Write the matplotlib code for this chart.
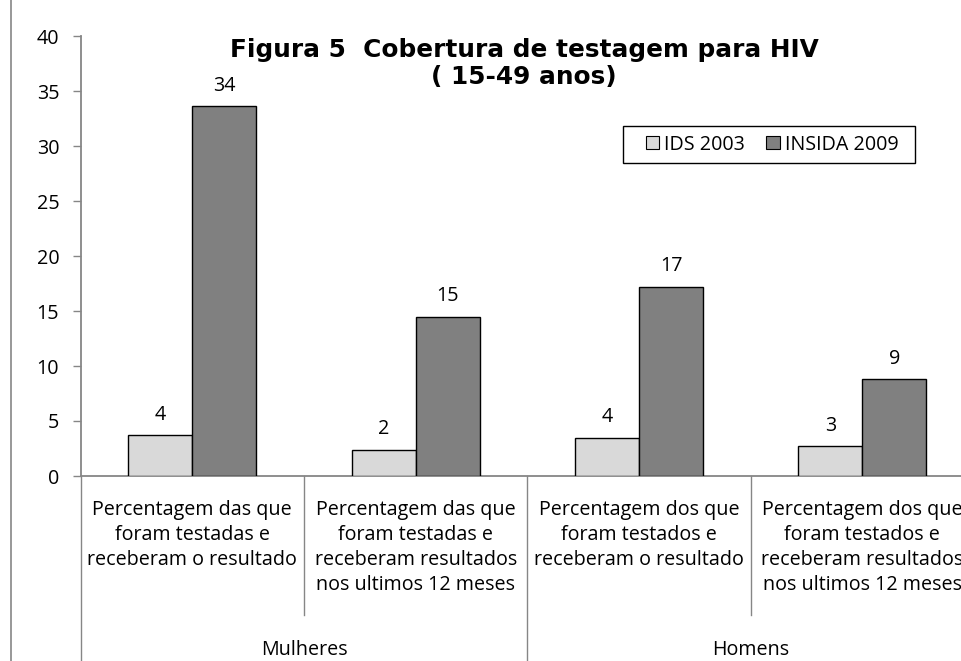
import matplotlib
matplotlib.use("Agg")
import matplotlib.pyplot as plt
from matplotlib.patches import Patch, Rectangle
from matplotlib.lines import Line2D
import numpy as np

# ---- data ----
categories = [
    "Percentagem das que\nforam testadas e\nreceberam o resultado",
    "Percentagem das que\nforam testadas e\nreceberam resultados\nnos ultimos 12 meses",
    "Percentagem dos que\nforam testados e\nreceberam o resultado",
    "Percentagem dos que\nforam testados e\nreceberam resultados\nnos ultimos 12 meses",
]
groups = ["Mulheres", "Homens"]
series_names = ["IDS 2003", "INSIDA 2009"]
ids2003 = [3.7, 2.4, 3.5, 2.7]
insida2009 = [33.6, 14.5, 17.2, 8.8]
labels_ids = ["4", "2", "4", "3"]
labels_insida = ["34", "15", "17", "9"]
yticks = [0, 5, 10, 15, 20, 25, 30, 35, 40]
title_lines = ["Figura 5  Cobertura de testagem para HIV", "( 15-49 anos)"]

FONT = "Open Sans"
FS = 14.2
W, H = 961, 661
fig = plt.figure(figsize=(W / 100, H / 100), dpi=100)

left_px, right_px, top_px, bot_px = 80.7, 974.0, 36.0, 476.0
ax = fig.add_axes([left_px / W, 1 - bot_px / H, (right_px - left_px) / W, (bot_px - top_px) / H])

x = np.arange(len(categories))
bw = 0.287
light, dark = "#D9D9D9", "#808080"
b1 = ax.bar(x - bw / 2, ids2003, bw, color=light, edgecolor="black", linewidth=1.0, zorder=3)
b2 = ax.bar(x + bw / 2, insida2009, bw, color=dark, edgecolor="black", linewidth=1.0, zorder=3)
ax.bar_label(b1, labels=labels_ids, padding=7.5, fontsize=FS, family=FONT)
ax.bar_label(b2, labels=labels_insida, padding=7.5, fontsize=FS, family=FONT)

ax.set_xlim(-0.5, len(categories) - 0.5)
ax.set_ylim(0, 40)
ax.set_yticks(yticks)
ax.set_xticks([])
gray = "#868686"
for s in ["top", "right"]:
    ax.spines[s].set_visible(False)
ax.spines["left"].set_color(gray)
ax.spines["bottom"].set_color(gray)
ax.spines["left"].set_linewidth(1.3)
ax.spines["bottom"].set_linewidth(1.3)
ax.tick_params(axis="y", direction="out", length=5.5, width=1.0, color=gray, pad=10,
               labelsize=FS)
for t in ax.get_yticklabels():
    t.set_family(FONT)

trans = ax.get_xaxis_transform()
axh = bot_px - top_px
# category labels
line_h = 25.0
first_y = 510.0
for i, cat in enumerate(categories):
    for j, line in enumerate(cat.split("\n")):
        ypx = first_y + j * line_h
        ax.text(i, -(ypx - bot_px) / axh, line, transform=trans, ha="center", va="center",
                fontsize=FS, family=FONT, clip_on=False)
# separators between categories within groups
for b in [0.5, 2.5]:
    ax.plot([b, b], [0, -(615 - bot_px) / axh], transform=trans, color=gray, lw=1.0, clip_on=False)
# group separators
for b in [-0.5, 1.5, 3.5]:
    ax.plot([b, b], [0, -(H - bot_px) / axh], transform=trans, color=gray, lw=1.0, clip_on=False)
# group labels
for g, name in enumerate(groups):
    ax.text(2 * g + 0.5, -(650 - bot_px) / axh, name, transform=trans, ha="center", va="center",
            fontsize=FS, family=FONT, clip_on=False)

# title (two lines)
for k, (line, ypx) in enumerate(zip(title_lines, [50, 77])):
    fig.text(524 / W, 1 - ypx / H, line, ha="center", va="center", fontsize=17.8,
             family="DejaVu Sans", fontweight="bold")

# legend (frame drawn separately)
fig.add_artist(Rectangle((622.7 / W, 1 - 163 / H), (915 - 622.7) / W, (163 - 125.5) / H,
                         transform=fig.transFigure, facecolor="white", edgecolor="black",
                         linewidth=1.0, zorder=4))
handles = [Patch(facecolor=light, edgecolor="black", linewidth=0.8),
           Patch(facecolor=dark, edgecolor="black", linewidth=0.8)]
leg = fig.legend(handles, series_names, loc="center", bbox_to_anchor=(772 / W, 1 - 144.5 / H),
                 ncol=2, frameon=False,
                 prop={"family": FONT, "size": FS}, handlelength=0.68, handleheight=0.68,
                 handletextpad=0.25, columnspacing=1.1, borderpad=0, borderaxespad=0)
leg.set_zorder(5)

# outer chart border on the left
fig.add_artist(Line2D([10.5 / W, 10.5 / W], [0, 1], transform=fig.transFigure, color=gray, lw=1.2))

fig.savefig("out.png", dpi=100)
